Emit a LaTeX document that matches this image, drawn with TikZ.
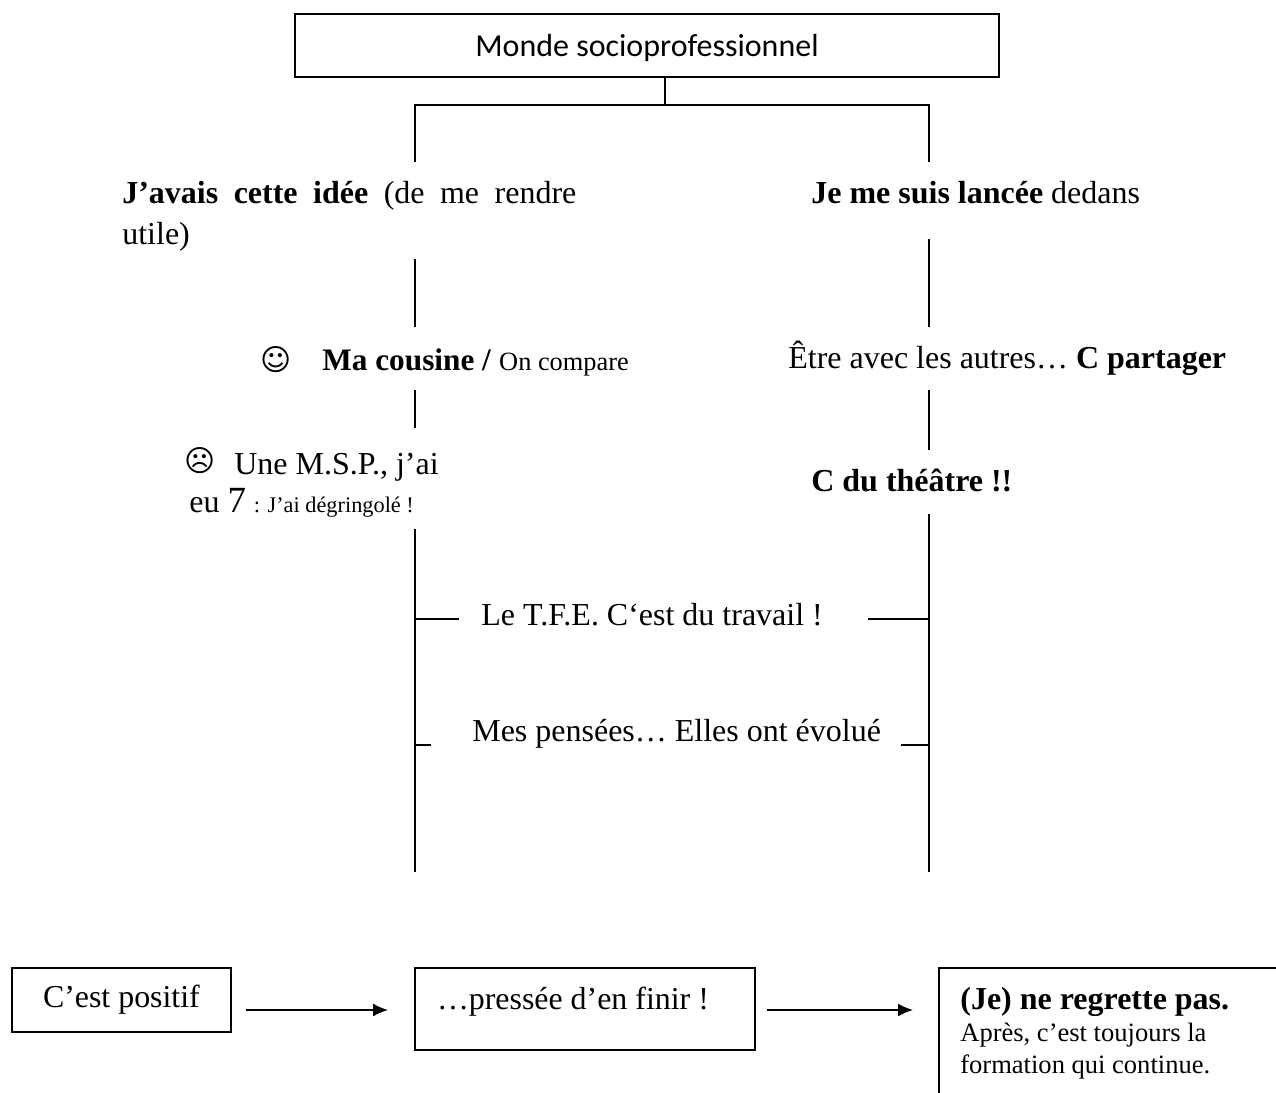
\documentclass[tikz,border=0pt]{standalone}
\usepackage{fontspec}
\setmainfont{Liberation Serif}
\newfontfamily\carlito{Carlito}
\newfontfamily\symboles{DejaVu Sans}
\usetikzlibrary{arrows.meta}

\tikzset{
    trait/.style={line width=0.9pt},
    fleche/.style={line width=0.9pt, -{Latex[length=0.3cm,width=0.26cm]}},
    texte/.style={anchor=base west, inner sep=0pt, font=\fontsize{18.2}{20}\selectfont},
    boite/.style={draw, line width=0.9pt, anchor=north west, inner ysep=0pt, outer sep=0pt, font=\fontsize{18.15}{20}\selectfont}
}

\begin{document}
\begin{tikzpicture}
\useasboundingbox (0,0) rectangle (25.52,21.86);

% Le monde et ses deux branches
\node (monde) [draw, line width=0.9pt, minimum width=14.08cm, minimum height=1.26cm, outer sep=0pt, text height=0.58cm, text depth=0.12cm, font=\carlito\fontsize{18.2}{20}\selectfont] at (12.94,20.95) {Monde socioprofessionnel};
\coordinate (tige) at (13.30,20.32);
\coordinate (fourche) at (13.30,19.76);
\coordinate (hautg) at (8.30,19.76);
\coordinate (hautd) at (18.58,19.76);
\coordinate (idee) at (8.30,18.62);
\coordinate (lancee) at (18.58,18.62);
\draw [trait] (tige) -- (fourche);
\draw [trait] (idee) -- (hautg) -- (hautd) -- (lancee);

% Les textes
\node (avais) [texte] at (2.44,17.79) {\makebox[9.08cm][s]{\textbf{J’avais cette idée} (de me rendre}};
\node (utile) [texte] at (2.44,16.97) {utile)};
\node (suis) [texte] at (16.22,17.79) {\textbf{Je me suis lancée} dedans};

\node (sourire) [font=\symboles\fontsize{17}{20}\selectfont, inner sep=0pt] at (5.52,14.66) {☺};
\node (cousine) [texte] at (6.44,14.44) {{\fontsize{17.8}{20}\selectfont\textbf{Ma cousine /}} {\fontsize{15}{18}\selectfont On compare}};
\node (autres) [texte] at (15.76,14.48) {Être avec les autres… \textbf{C partager}};

\node (triste) [font=\symboles\fontsize{17}{20}\selectfont, inner sep=0pt] at (4.00,12.64) {☹};
\node (msp) [texte] at (4.68,12.36) {Une M.S.P., j’ai};
\node (degring) [texte] at (3.78,11.60) {eu {\fontsize{21}{20}\selectfont 7} {\fontsize{12.7}{18}\selectfont : J’ai dégringolé !}};
\node (theatre) [texte] at (16.22,12.02) {\textbf{C du théâtre !!}};

\node (tfe) [texte] at (9.62,9.34) {Le T.F.E. C‘est du travail !};
\node (pensees) [texte] at (9.44,7.02) {Mes pensées… Elles ont évolué};

% Les deux colonnes
\foreach \x/\h/\b in {8.30/16.68/15.32, 18.58/17.08/15.32, 8.30/14.06/13.30, 18.58/14.06/12.86, 8.30/11.28/4.42, 18.58/11.58/4.42}
    \draw [trait] (\x,\h) coordinate (a) -- (\x,\b) coordinate (b);

\foreach \y/\g/\d in {9.48/9.18/17.36, 6.96/8.62/18.02}{
    \draw [trait] (8.30,\y) coordinate (a) -- (\g,\y) coordinate (b);
    \draw [trait] (\d,\y) coordinate (a) -- (18.58,\y) coordinate (b);
}

% En bas
\node (positif) [boite, inner xsep=0.62cm, text height=0.80cm, text depth=0.48cm] at (0.24,2.50) {\makebox[3.14cm][l]{C’est positif}};
\node (presse) [boite, inner xsep=0.44cm, text height=0.84cm, text depth=0.80cm] at (8.30,2.50) {\makebox[5.92cm][l]{…pressée d’en finir !}};
\node (regrette) [anchor=north west, inner sep=0pt, align=left, font=\fontsize{15.1}{18.2}\selectfont] at (19.20,2.12) {{\fontsize{18.2}{18.2}\selectfont\textbf{(Je) ne regrette pas.}}\\Après, c’est toujours la\\formation qui continue.};

\coordinate (coinb) at (18.78,0);
\coordinate (coin) at (18.78,2.50);
\coordinate (coind) at (25.52,2.50);
\draw [trait] (coinb) -- (coin) -- (coind);

\coordinate (f1a) at (4.92,1.66);
\coordinate (f1b) at (7.76,1.66);
\coordinate (f2a) at (15.34,1.66);
\coordinate (f2b) at (18.26,1.66);
\draw [fleche] (f1a) -- (f1b);
\draw [fleche] (f2a) -- (f2b);

\end{tikzpicture}
\end{document}
